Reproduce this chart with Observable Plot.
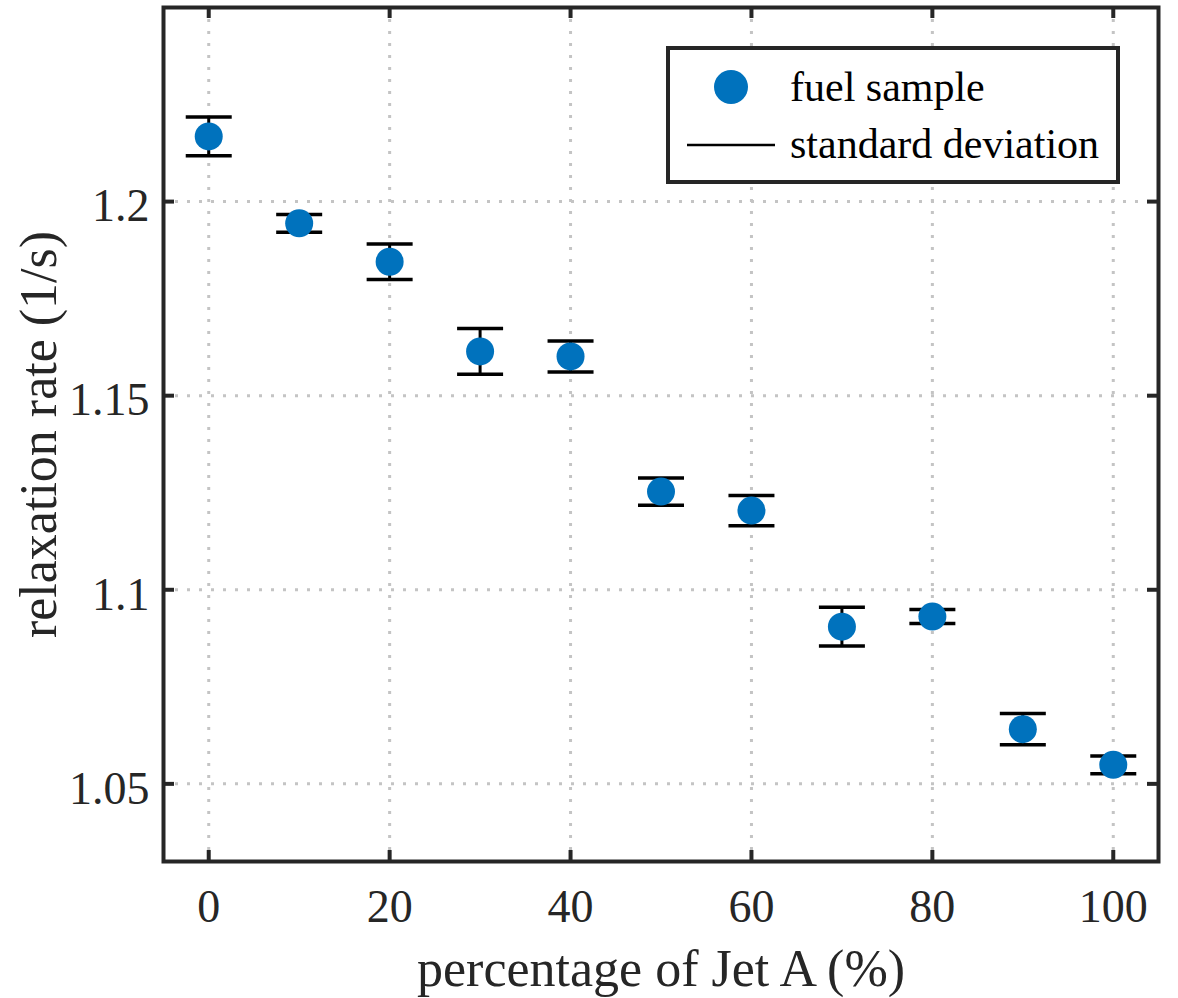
<!DOCTYPE html>
<html>
<head>
<meta charset="utf-8">
<script src="https://cdn.jsdelivr.net/npm/d3@7"></script>
<script src="https://cdn.jsdelivr.net/npm/@observablehq/plot@0.6"></script>
<style>
  html, body { margin: 0; padding: 0; background: #fff; }
  #chart svg { display: block; }
</style>
</head>
<body>
<div id="chart"></div>
<script>
// ---- data ----
const jetA = [0, 10, 20, 30, 40, 50, 60, 70, 80, 90, 100];
const relaxRate = [1.2168, 1.1944, 1.1845, 1.1614, 1.1601, 1.1253, 1.1204, 1.0905, 1.0931, 1.0641, 1.0549];
const stdDev = [0.0050, 0.0023, 0.0046, 0.0059, 0.0040, 0.0035, 0.0039, 0.0050, 0.0018, 0.0040, 0.0023];

const xTicks = [0, 20, 40, 60, 80, 100];
const yTicks = [1.05, 1.1, 1.15, 1.2];
const yTickLabels = ["1.05", "1.1", "1.15", "1.2"];

const xLabel = "percentage of Jet A (%)";
const yLabel = "relaxation rate (1/s)";
const legendLabels = ["fuel sample", "standard deviation"];

// ---- table ----
const rows = jetA.map((x, i) => ({
  x, y: relaxRate[i], lo: relaxRate[i] - stdDev[i], hi: relaxRate[i] + stdDev[i]
}));

const W = 1178, H = 998;
const mL = 163, mR = 20, mT = 7, mB = 137;
const innerW = W - mL - mR, innerH = H - mT - mB;
const tickLen = 11;
const axisColor = "#262626";
const blue = "#0072BD";
const font = "'Liberation Serif', 'Times New Roman', Times, serif";

// custom horizontal-line symbol for error bar caps
const capSymbol = {
  draw(context, size) {
    const r = Math.sqrt(size / Math.PI);
    context.moveTo(-r, 0);
    context.lineTo(r, 0);
  }
};

const chart = Plot.plot({
  width: W,
  height: H,
  marginLeft: mL,
  marginRight: mR,
  marginTop: mT,
  marginBottom: mB,
  style: { fontFamily: font, color: axisColor, background: "#fff" },
  x: { domain: [-5, 105] },
  y: { domain: [1.03, 1.25] },
  marks: [
    // dotted grid
    Plot.ruleX(xTicks, { x: d => d, stroke: "#c4c4c4", strokeWidth: 3, strokeDasharray: "3,9" }),
    Plot.ruleY(yTicks, { y: d => d, stroke: "#c4c4c4", strokeWidth: 3, strokeDasharray: "3,9" }),
    // inward ticks
    Plot.tickX(xTicks, { x: d => d, insetTop: innerH - tickLen, stroke: axisColor, strokeWidth: 4 }),
    Plot.tickX(xTicks, { x: d => d, insetBottom: innerH - tickLen, stroke: axisColor, strokeWidth: 4 }),
    Plot.tickY(yTicks, { y: d => d, insetRight: innerW - tickLen, stroke: axisColor, strokeWidth: 4 }),
    Plot.tickY(yTicks, { y: d => d, insetLeft: innerW - tickLen, stroke: axisColor, strokeWidth: 4 }),
    // tick labels
    Plot.axisX(xTicks, { tickSize: 0, tickPadding: 28, fontSize: 46, label: null, fill: axisColor }),
    Plot.axisY(yTicks, {
      tickSize: 0, tickPadding: 14, fontSize: 46, label: null, fill: axisColor, dy: 5,
      tickFormat: d => yTickLabels[yTicks.indexOf(d)]
    }),
    // axis titles
    Plot.text([xLabel], { frameAnchor: "bottom", dy: 108, fontSize: 52, fill: axisColor, lineAnchor: "middle", textAnchor: "middle" }),
    Plot.text([yLabel], { frameAnchor: "left", dx: -124, rotate: -90, fontSize: 52, fill: axisColor, lineAnchor: "middle", textAnchor: "middle" }),
    // error bars
    Plot.ruleX(rows, { x: "x", y1: "lo", y2: "hi", stroke: "black", strokeWidth: 3 }),
    Plot.dot(rows, { x: "x", y: "hi", symbol: capSymbol, r: 23, stroke: "black", fill: "none", strokeWidth: 3.5 }),
    Plot.dot(rows, { x: "x", y: "lo", symbol: capSymbol, r: 23, stroke: "black", fill: "none", strokeWidth: 3.5 }),
    // data points
    Plot.dot(rows, { x: "x", y: "y", r: 14, fill: blue, stroke: null }),
    // box
    Plot.frame({ stroke: axisColor, strokeWidth: 4 })
  ]
});

document.getElementById("chart").appendChild(chart);

// ---- legend (inside the axes, top right) ----
const svg = d3.select(chart);
const lg = svg.append("g").attr("class", "legend").attr("text-anchor", "start");
lg.append("rect")
  .attr("x", 668).attr("y", 48).attr("width", 450).attr("height", 134)
  .attr("fill", "#fff").attr("stroke", axisColor).attr("stroke-width", 4);
lg.append("circle")
  .attr("cx", 731).attr("cy", 87).attr("r", 17).attr("fill", blue);
lg.append("line")
  .attr("x1", 687).attr("x2", 775).attr("y1", 145).attr("y2", 145)
  .attr("stroke", "black").attr("stroke-width", 2.5);
lg.selectAll("text.lbl").data(legendLabels).join("text")
  .attr("class", "lbl")
  .attr("x", 790)
  .attr("y", (d, i) => i === 0 ? 101 : 158)
  .attr("text-anchor", "start")
  .attr("font-family", font)
  .attr("font-size", 42)
  .attr("fill", "#000")
  .text(d => d);
</script>
</body>
</html>
